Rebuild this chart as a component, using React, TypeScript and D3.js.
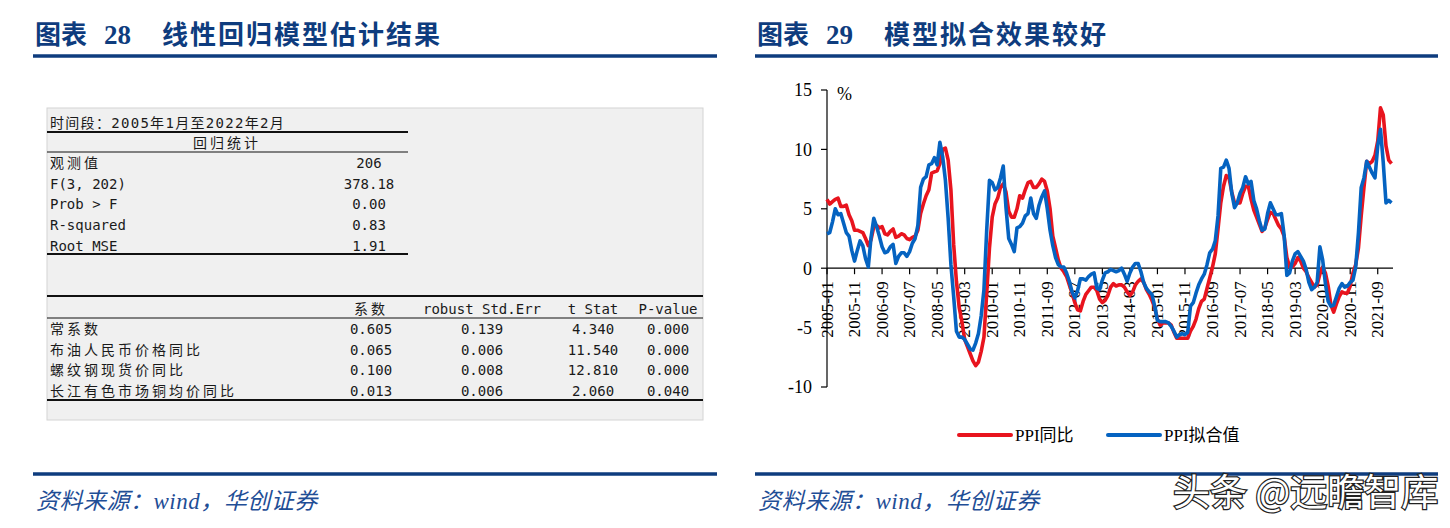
import React from "react";
import * as d3 from "d3";

// ---- Right chart data: monthly, 2005-01 .. 2022-02 (206 points) ----
const ppiYoY: number[] = [
  5.8, 5.4, 5.6, 5.8, 5.9, 5.2, 5.2, 5.3, 4.5, 4.0, 3.2, 3.2,
  3.1, 3.0, 2.5, 1.9, 2.4, 3.5, 3.6, 3.4, 3.5, 2.9, 2.8, 3.1,
  3.3, 2.6, 2.7, 2.9, 2.8, 2.5, 2.4, 2.6, 2.7, 3.2, 4.6, 5.4,
  6.1, 6.6, 8.0, 8.1, 8.2, 8.8, 10.0, 10.1, 9.1, 6.6, 2.0, -1.1,
  -3.3, -4.5, -6.0, -6.6, -7.2, -7.8, -8.2, -7.9, -7.0, -5.8, -2.1, 1.7,
  4.3, 5.4, 5.9, 6.8, 7.1, 6.4, 4.8, 4.3, 4.3, 5.0, 6.1, 5.9,
  6.6, 7.2, 7.3, 6.8, 6.8, 7.1, 7.5, 7.3, 6.5, 5.0, 2.7, 1.7,
  0.7, 0.0, -0.3, -0.7, -1.4, -2.1, -2.9, -3.5, -3.6, -2.8, -2.2, -1.9,
  -1.6, -1.6, -1.9, -2.6, -2.9, -2.7, -2.3, -1.6, -1.3, -1.5, -1.4, -1.4,
  -1.6, -2.0, -2.3, -2.0, -1.4, -1.1, -0.9, -1.2, -1.8, -2.2, -2.7, -3.3,
  -4.3, -4.8, -4.6, -4.6, -4.6, -4.8, -5.4, -5.9, -5.9, -5.9, -5.9, -5.9,
  -5.3, -4.9, -4.3, -3.4, -2.8, -2.6, -1.7, -0.8, 0.1, 1.2, 3.3, 5.5,
  6.9, 7.8, 7.6, 6.4, 5.5, 5.5, 5.5, 6.3, 6.9, 6.9, 5.8, 4.9,
  4.3, 3.7, 3.1, 3.4, 4.1, 4.7, 4.6, 4.1, 3.6, 3.3, 2.7, 0.9,
  0.1, 0.1, 0.4, 0.9, 0.6, 0.0, -0.3, -0.8, -1.2, -1.6, -1.4, -0.5,
  0.1, -0.4, -1.5, -3.1, -3.7, -3.0, -2.4, -2.0, -2.1, -2.1, -1.5, -0.4,
  0.3, 1.7, 4.4, 6.8, 9.0, 8.8, 9.0, 9.5, 10.7, 13.5, 12.9, 10.3,
  9.1, 8.8,
];

const ppiFitted: number[] = [
  2.9, 3.0, 3.9, 5.0, 4.5, 4.6, 3.8, 3.0, 2.7, 1.5, 0.6, 1.5,
  2.3, 1.9, 0.8, 0.1, 2.6, 4.2, 3.5, 2.7, 1.8, 1.3, 1.4, 1.8,
  2.0, 0.4, 1.0, 1.3, 1.3, 1.0, 1.4, 2.1, 2.5, 3.6, 6.8, 7.5,
  7.7, 8.7, 8.8, 9.3, 8.7, 10.6, 9.4, 7.4, 4.2, 0.3, -2.4, -5.3,
  -5.8, -5.8, -6.0, -6.4, -6.8, -6.9, -6.3, -5.5, -4.0, -1.8, 3.2, 7.4,
  7.2, 6.6, 6.8, 7.6, 8.6, 5.1, 2.5, 2.0, 1.4, 3.4, 3.5, 3.8,
  4.4, 4.6, 5.9, 4.6, 4.2, 5.3, 6.0, 6.5, 5.0, 3.2, 1.9, 0.9,
  0.3, 0.1, 0.1, -0.4, -1.1, -2.0, -2.5, -1.9, -0.9, -0.9, -1.0, -0.7,
  -0.5, -0.4, -1.7, -1.8, -1.0, -0.4, -0.3, -0.1, -0.2, -0.3, -0.2, 0.0,
  -0.5, -1.1, -0.4, 0.1, 0.4, 0.4, -0.3, -1.2, -1.7, -2.0, -2.2, -3.2,
  -4.4, -4.5, -4.5, -4.5, -4.6, -4.9, -5.3, -5.8, -5.6, -5.5, -5.6, -5.4,
  -3.2, -2.9, -2.1, -1.4, -0.9, -0.5, 0.3, 1.3, 1.6, 2.3, 4.4, 8.4,
  8.5, 9.1, 8.4, 6.3, 5.1, 5.5, 6.3, 6.8, 7.7, 7.1, 7.3, 5.7,
  5.0, 4.0, 3.2, 3.3, 4.6, 5.5, 5.0, 4.5, 4.5, 4.6, 2.8, -0.6,
  -0.4, 0.6, 1.2, 1.4, 1.0, 0.6, -0.1, -1.2, -1.8, -1.6, -1.2, 1.8,
  0.7, -1.3, -2.8, -3.2, -3.1, -2.4, -1.7, -1.3, -1.6, -1.5, -1.2, -1.0,
  0.1, 3.0, 6.8, 7.6, 9.0, 8.5, 8.0, 7.6, 10.3, 11.7, 8.9, 5.5,
  5.7, 5.5,
];

const xTickIndex: number[] = [0, 10, 20, 30, 40, 50, 60, 70, 80, 90, 100, 110, 120, 130, 140, 150, 160, 170, 180, 190, 200];
const xTickLabels: string[] = [
  "2005-01", "2005-11", "2006-09", "2007-07", "2008-05", "2009-03", "2010-01",
  "2010-11", "2011-09", "2012-07", "2013-05", "2014-03", "2015-01", "2015-11",
  "2016-09", "2017-07", "2018-05", "2019-03", "2020-01", "2020-11", "2021-09",
];
const yTicks: number[] = [-10, -5, 0, 5, 10, 15];
const seriesNames: string[] = ["PPI同比", "PPI拟合值"];

// ---- Left table data ----
const periodText = "时间段：2005年1月至2022年2月";
const statsHeader = "回归统计";
const statLabels: string[] = ["观测值", "F(3, 202)", "Prob > F", "R-squared", "Root MSE"];
const statValues: string[] = ["206", "378.18", "0.00", "0.83", "1.91"];
const coefHeaders: string[] = ["系数", "robust Std.Err", "t Stat", "P-value"];
const coefLabels: string[] = ["常系数", "布油人民币价格同比", "螺纹钢现货价同比", "长江有色市场铜均价同比"];
const coefValues: string[][] = [
  ["0.605", "0.139", "4.340", "0.000"],
  ["0.065", "0.006", "11.540", "0.000"],
  ["0.100", "0.008", "12.810", "0.000"],
  ["0.013", "0.006", "2.060", "0.040"],
];

const NAVY = "#0E3C7E";
const RED = "#E8141E";
const BLUE = "#0563C1";
const SERIF = "'Liberation Serif', 'Times New Roman', 'Noto Sans CJK SC', serif";
const TITLE_FONT = "'Liberation Serif', 'Noto Sans CJK SC', serif";
const MONO = "'DejaVu Sans Mono', 'Noto Sans CJK SC', monospace";

function Panel({ x0, x1, num, title }: { x0: number; x1: number; num: string; title: string }) {
  return (
    <g>
      <text x={x0 + 2} y={44} fontFamily={TITLE_FONT} fontWeight="bold" fontSize={26} fill={NAVY}>图表</text>
      <text x={x0 + 71} y={44} fontFamily={TITLE_FONT} fontWeight="bold" fontSize={27} fill={NAVY}>{num}</text>
      <text x={x0 + 129} y={44} fontFamily={TITLE_FONT} fontWeight="bold" fontSize={26} fill={NAVY} letterSpacing={2}>{title}</text>
      <line x1={x0} x2={x1} y1={56} y2={56} stroke={NAVY} strokeWidth={3.5} />
      <line x1={x0} x2={x1} y1={474} y2={474} stroke={NAVY} strokeWidth={3.5} />
      <text x={x0 + 3} y={509} fontFamily={SERIF} fontStyle="italic" fontSize={23} fill="#1F4E96" letterSpacing={0.5}>资料来源：wind，华创证券</text>
    </g>
  );
}

function RegressionTable() {
  const left = 47;
  const rowsY = [163, 184, 204, 225, 246];
  const coefRowsY = [329, 350, 370, 391];
  const colX = [371, 482, 593, 668];
  return (
    <g fontFamily={MONO} fontSize={14} fill="#1a1a1a">
      <rect x={left} y={108} width={656} height={312} fill="#F0F0F0" stroke="#D4D4D4" strokeWidth={1} />
      <text x={50} y={123} dominantBaseline="central" letterSpacing={1.3}>{periodText}</text>
      <line x1={left} x2={408} y1={132} y2={132} stroke="#111" strokeWidth={2} />
      <text x={227} y={143} dominantBaseline="central" textAnchor="middle" letterSpacing={3}>{statsHeader}</text>
      <line x1={left} x2={408} y1={152} y2={152} stroke="#111" strokeWidth={1.2} />
      {statLabels.map((s, i) => (
        <text key={s} x={50} y={rowsY[i]} dominantBaseline="central" letterSpacing={i === 0 ? 3 : 0}>{s}</text>
      ))}
      {statValues.map((s, i) => (
        <text key={"v" + i} x={369} y={rowsY[i]} dominantBaseline="central" textAnchor="middle">{s}</text>
      ))}
      <line x1={left} x2={408} y1={254} y2={254} stroke="#111" strokeWidth={2} />

      <line x1={left} x2={703} y1={296} y2={296} stroke="#111" strokeWidth={2} />
      {coefHeaders.map((h, j) => (
        <text key={h} x={colX[j]} y={309} dominantBaseline="central" textAnchor="middle" letterSpacing={j === 0 ? 3 : 0}>{h}</text>
      ))}
      <line x1={left} x2={703} y1={318} y2={318} stroke="#111" strokeWidth={1} />
      {coefLabels.map((s, i) => (
        <text key={s} x={50} y={coefRowsY[i]} dominantBaseline="central" letterSpacing={3}>{s}</text>
      ))}
      {coefValues.map((row, i) =>
        row.map((v, j) => (
          <text key={i + "-" + j} x={colX[j]} y={coefRowsY[i]} dominantBaseline="central" textAnchor="middle">{v}</text>
        ))
      )}
      <line x1={left} x2={703} y1={400} y2={400} stroke="#111" strokeWidth={2} />
    </g>
  );
}

function LineChart() {
  const x = d3.scaleLinear().domain([0, ppiYoY.length - 1]).range([827, 1391.5]);
  const y = d3.scaleLinear().domain([-10, 15]).range([387, 90]);
  const line = d3
    .line<number>()
    .x((_, i) => x(i))
    .y((d) => y(d))
    .curve(d3.curveLinear);
  const y0 = y(0);
  const axisX = x(0);
  return (
    <g>
      <line x1={axisX} x2={axisX} y1={y(-10)} y2={y(15)} stroke="#000" strokeWidth={1.2} />
      {yTicks.map((t) => (
        <g key={t}>
          <line x1={axisX - 6} x2={axisX} y1={y(t)} y2={y(t)} stroke="#000" strokeWidth={1.2} />
          <text x={axisX - 15} y={y(t)} dy="0.35em" textAnchor="end" fontFamily={SERIF} fontSize={18} fill="#000">{t}</text>
        </g>
      ))}
      <text x={837} y={100} fontFamily={SERIF} fontSize={18} fill="#000">%</text>
      <line x1={axisX} x2={x(ppiYoY.length - 1) + 1.5} y1={y0} y2={y0} stroke="#000" strokeWidth={1.2} />
      {xTickIndex.map((ti, k) => (
        <g key={ti}>
          <line x1={x(ti)} x2={x(ti)} y1={y0} y2={y0 + 6} stroke="#000" strokeWidth={1.2} />
          <text
            transform={`translate(${x(ti)},${y0 + 13}) rotate(-90)`}
            textAnchor="end"
            dominantBaseline="central"
            fontFamily={SERIF}
            fontSize={17}
            fill="#000"
          >
            {xTickLabels[k]}
          </text>
        </g>
      ))}
      <path d={line(ppiYoY) || ""} fill="none" stroke={RED} strokeWidth={3.6} strokeLinejoin="round" />
      <path d={line(ppiFitted) || ""} fill="none" stroke={BLUE} strokeWidth={3.6} strokeLinejoin="round" />
      <line x1={959} x2={1011} y1={435} y2={435} stroke={RED} strokeWidth={4} strokeLinecap="round" />
      <text x={1015} y={441} fontFamily={SERIF} fontSize={17} fill="#000">{seriesNames[0]}</text>
      <line x1={1108} x2={1160} y1={435} y2={435} stroke={BLUE} strokeWidth={4} strokeLinecap="round" />
      <text x={1164} y={441} fontFamily={SERIF} fontSize={17} fill="#000">{seriesNames[1]}</text>
    </g>
  );
}

export default function App() {
  return (
    <svg
      width={1450}
      height={528}
      viewBox="0 0 1450 528"
      style={{ position: "absolute", left: 0, top: 0, background: "#fff" }}
    >
      <rect x={0} y={0} width={1450} height={528} fill="#fff" />
      <Panel x0={33} x1={717} num="28" title="线性回归模型估计结果" />
      <Panel x0={755} x1={1438} num="29" title="模型拟合效果较好" />
      <RegressionTable />
      <LineChart />
      <text
        x={1173}
        y={506}
        fontFamily="'Noto Sans CJK SC', sans-serif"
        fontSize={37}
        fill="#fff"
        stroke="#222"
        strokeWidth={2.5}
        paintOrder="stroke"
      >
        头条 @远瞻智库
      </text>
    </svg>
  );
}
